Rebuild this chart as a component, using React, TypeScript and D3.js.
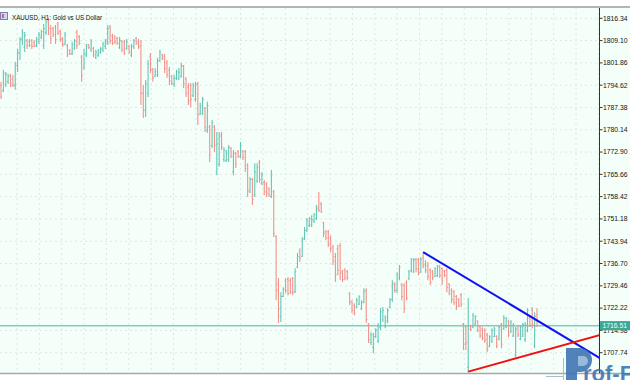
import React from 'react';
import * as d3 from 'd3';

const W = 630;
const H = 380;

const tickValues = [1816.34, 1809.1, 1801.86, 1794.62, 1787.38, 1780.14, 1772.9, 1765.66, 1758.42, 1751.18, 1743.94, 1736.7, 1729.46, 1722.22, 1714.98, 1707.74];

const opens = [
  1794.5, 1792.8, 1795.0, 1795.8, 1797.6, 1796.5, 1794.6, 1801.0, 1805.0, 1809.5,
  1807.0, 1809.2, 1808.8, 1809.0, 1808.5, 1807.4, 1808.8, 1810.2, 1807.5, 1811.8,
  1815.5, 1813.2, 1813.0, 1813.6, 1814.5, 1812.0, 1809.5, 1808.0, 1807.5, 1806.0,
  1804.8, 1806.6, 1811.8, 1810.3, 1803.8, 1800.5, 1804.5, 1807.8, 1806.2, 1806.6,
  1803.6, 1804.4, 1805.2, 1806.0, 1807.2, 1808.5, 1813.5, 1810.6, 1810.2, 1809.8,
  1807.0, 1808.8, 1808.6, 1806.5, 1807.2, 1804.4, 1807.0, 1809.8, 1808.8, 1807.5,
  1792.0, 1786.5, 1792.0, 1804.0, 1799.5, 1797.5, 1798.0, 1802.5, 1804.5, 1804.0,
  1802.0, 1799.5, 1797.5, 1794.8, 1796.8, 1797.0, 1797.5, 1800.8, 1796.5, 1794.0,
  1794.5, 1791.2, 1790.0, 1795.0, 1785.2, 1785.5, 1787.0, 1780.0, 1781.0, 1775.0,
  1781.0, 1766.5, 1769.0, 1778.5, 1770.5, 1770.2, 1770.5, 1774.2, 1766.5, 1772.5,
  1773.0, 1771.5, 1773.2, 1773.0, 1768.5, 1760.0, 1764.0, 1759.0, 1763.5, 1769.5,
  1762.8, 1763.0, 1762.5, 1761.0, 1758.5, 1760.0, 1745.5, 1730.0, 1719.5, 1726.0,
  1731.0, 1731.5, 1731.2, 1731.8, 1727.5, 1735.5, 1740.5, 1739.0, 1744.8, 1747.5,
  1749.0, 1749.2, 1750.5, 1751.2, 1755.0, 1756.0, 1750.0, 1747.0, 1747.0, 1745.0,
  1742.0, 1739.0, 1741.5, 1742.5, 1734.0, 1734.5, 1734.0, 1727.0, 1724.5, 1723.0,
  1722.5, 1723.5, 1722.0, 1724.2, 1728.0, 1717.0, 1711.0, 1709.5, 1713.0, 1711.5,
  1716.0, 1718.5, 1716.5, 1718.0, 1722.5, 1725.0, 1730.0, 1728.0, 1732.0, 1730.0,
  1729.5, 1730.5, 1731.8, 1734.5, 1734.0, 1738.0, 1738.0, 1734.0, 1738.5, 1736.5,
  1736.0, 1734.5, 1734.0, 1732.5, 1732.8, 1735.5, 1735.0, 1734.2, 1734.5, 1730.0,
  1728.0, 1727.5, 1726.0, 1725.0, 1726.5, 1717.0, 1716.0, 1703.0, 1716.5, 1716.0,
  1717.0, 1718.0, 1716.2, 1715.5, 1715.0, 1713.5, 1709.8, 1711.5, 1713.0, 1713.0,
  1712.0, 1717.0, 1715.5, 1716.0, 1718.0, 1714.5, 1713.2, 1707.0, 1716.5, 1712.2,
  1713.0, 1712.0, 1715.0, 1719.0, 1721.5, 1710.0, 1720.0
];

const highs = [
  1795.7, 1799.6, 1798.9, 1798.3, 1798.3, 1797.9, 1802.2, 1806.4, 1810.3, 1812.9,
  1811.9, 1809.6, 1809.6, 1809.6, 1809.3, 1810.3, 1811.9, 1812.6, 1814.5, 1816.1,
  1816.5, 1814.2, 1813.5, 1814.2, 1815.2, 1812.6, 1810.3, 1811.9, 1808.0, 1806.4,
  1808.7, 1809.6, 1812.6, 1810.9, 1804.4, 1806.4, 1808.0, 1808.0, 1809.6, 1807.0,
  1806.1, 1806.4, 1807.0, 1808.7, 1809.6, 1814.2, 1814.2, 1811.3, 1810.9, 1810.3,
  1810.3, 1809.3, 1809.3, 1809.6, 1807.7, 1808.0, 1809.6, 1810.3, 1809.6, 1809.3,
  1794.7, 1796.3, 1802.8, 1805.1, 1800.2, 1800.2, 1803.5, 1806.1, 1804.8, 1804.8,
  1802.8, 1800.5, 1797.9, 1797.9, 1799.6, 1800.2, 1801.9, 1801.2, 1797.3, 1795.3,
  1795.3, 1795.3, 1795.7, 1795.7, 1788.9, 1790.8, 1787.5, 1789.2, 1781.7, 1783.3,
  1781.7, 1779.4, 1779.4, 1779.4, 1774.5, 1773.6, 1775.2, 1774.5, 1773.6, 1772.9,
  1773.6, 1776.2, 1773.6, 1773.6, 1769.3, 1764.8, 1764.5, 1769.3, 1769.3, 1770.3,
  1766.4, 1763.8, 1763.2, 1761.5, 1767.1, 1760.6, 1745.9, 1732.0, 1727.4, 1729.0,
  1732.0, 1732.3, 1732.0, 1732.3, 1735.2, 1740.1, 1741.7, 1745.3, 1748.6, 1751.5,
  1751.8, 1752.4, 1753.1, 1755.7, 1759.9, 1756.7, 1750.2, 1747.6, 1747.6, 1745.9,
  1742.7, 1740.1, 1742.7, 1743.4, 1734.6, 1735.2, 1734.6, 1727.4, 1724.8, 1723.8,
  1725.5, 1726.4, 1724.8, 1728.7, 1728.7, 1717.4, 1714.4, 1714.1, 1715.7, 1717.4,
  1722.2, 1722.6, 1719.9, 1722.2, 1725.5, 1731.3, 1730.7, 1733.9, 1736.2, 1730.3,
  1730.3, 1731.3, 1734.6, 1738.5, 1738.5, 1738.5, 1738.5, 1738.8, 1740.4, 1737.8,
  1737.2, 1735.2, 1734.6, 1735.5, 1736.2, 1736.2, 1735.5, 1734.6, 1735.2, 1730.3,
  1728.7, 1728.1, 1726.5, 1725.5, 1727.1, 1717.4, 1716.7, 1725.5, 1716.8, 1720.6,
  1719.9, 1718.3, 1716.7, 1716.0, 1715.7, 1714.1, 1713.4, 1715.7, 1716.1, 1713.4,
  1716.7, 1717.4, 1719.9, 1719.3, 1718.3, 1718.3, 1717.4, 1716.1, 1716.7, 1716.7,
  1717.4, 1717.7, 1722.2, 1719.3, 1722.6, 1720.9, 1722.2
];

const lows = [
  1790.1, 1792.4, 1794.0, 1795.0, 1794.0, 1794.0, 1793.1, 1798.9, 1802.8, 1807.7,
  1805.4, 1806.4, 1807.0, 1806.4, 1807.0, 1807.0, 1808.0, 1809.6, 1806.4, 1810.9,
  1810.9, 1808.0, 1810.3, 1808.0, 1810.9, 1808.7, 1807.0, 1807.7, 1803.8, 1804.4,
  1804.4, 1806.1, 1806.4, 1807.7, 1795.7, 1799.6, 1803.8, 1806.4, 1805.4, 1803.8,
  1803.1, 1803.8, 1804.8, 1805.4, 1806.4, 1807.7, 1808.0, 1807.7, 1808.0, 1807.7,
  1806.4, 1805.4, 1804.4, 1806.1, 1804.8, 1803.8, 1806.4, 1807.7, 1806.4, 1788.2,
  1784.0, 1784.3, 1790.8, 1798.6, 1795.7, 1797.3, 1797.3, 1802.2, 1802.8, 1798.6,
  1797.0, 1794.7, 1794.7, 1794.0, 1796.3, 1796.3, 1797.0, 1793.7, 1790.8, 1788.2,
  1787.5, 1790.8, 1789.2, 1781.7, 1784.9, 1784.9, 1779.4, 1779.1, 1769.7, 1774.2,
  1772.9, 1765.4, 1768.1, 1773.6, 1769.7, 1769.7, 1769.7, 1771.0, 1765.4, 1767.7,
  1771.0, 1771.0, 1770.3, 1766.4, 1758.3, 1759.6, 1755.7, 1758.3, 1762.9, 1762.9,
  1762.2, 1758.9, 1758.3, 1758.3, 1758.0, 1745.3, 1724.8, 1717.4, 1717.7, 1725.8,
  1727.1, 1726.4, 1726.8, 1726.4, 1727.1, 1735.2, 1737.2, 1738.8, 1744.3, 1746.9,
  1748.6, 1748.6, 1749.9, 1750.8, 1753.4, 1753.1, 1745.3, 1744.3, 1742.1, 1740.4,
  1736.2, 1730.7, 1732.9, 1731.3, 1730.7, 1731.3, 1731.3, 1723.2, 1720.6, 1719.9,
  1722.2, 1723.2, 1721.6, 1723.8, 1717.4, 1710.9, 1710.2, 1707.6, 1712.5, 1710.9,
  1715.1, 1717.7, 1715.7, 1717.4, 1722.2, 1724.2, 1727.1, 1727.1, 1731.3, 1724.8,
  1720.6, 1724.8, 1731.3, 1733.9, 1733.6, 1733.9, 1732.9, 1733.6, 1735.2, 1733.6,
  1731.3, 1729.7, 1731.3, 1732.3, 1732.3, 1732.0, 1729.7, 1732.3, 1727.4, 1726.4,
  1723.8, 1723.2, 1721.6, 1722.6, 1722.6, 1708.6, 1708.6, 1701.4, 1714.8, 1715.7,
  1716.7, 1714.4, 1712.5, 1711.8, 1710.9, 1707.9, 1709.5, 1710.9, 1712.8, 1709.2,
  1711.8, 1709.2, 1715.1, 1715.7, 1712.8, 1714.1, 1712.8, 1706.3, 1712.8, 1711.8,
  1712.8, 1711.2, 1714.4, 1716.1, 1715.7, 1709.2, 1716.05
];

const closes = [
  1791.0, 1798.5, 1798.2, 1797.6, 1795.2, 1794.6, 1801.0, 1805.2, 1809.5, 1811.6,
  1810.8, 1807.5, 1807.6, 1807.2, 1807.4, 1809.4, 1811.0, 1812.0, 1813.0, 1815.0,
  1813.0, 1809.8, 1811.0, 1809.5, 1811.5, 1809.5, 1807.8, 1811.0, 1804.5, 1804.8,
  1807.8, 1809.0, 1807.5, 1808.2, 1797.5, 1805.0, 1807.2, 1806.8, 1808.8, 1804.5,
  1805.3, 1805.8, 1806.5, 1808.0, 1809.0, 1813.0, 1809.0, 1808.3, 1808.6, 1808.2,
  1809.2, 1806.2, 1805.0, 1808.8, 1805.3, 1807.3, 1809.0, 1808.2, 1807.0, 1792.0,
  1786.5, 1795.0, 1801.5, 1799.5, 1797.0, 1799.0, 1802.5, 1805.3, 1803.2, 1800.0,
  1798.0, 1796.0, 1795.3, 1797.0, 1799.0, 1798.8, 1801.0, 1795.0, 1792.0, 1789.5,
  1790.0, 1794.5, 1795.0, 1785.0, 1788.0, 1790.0, 1781.0, 1788.0, 1772.0, 1782.5,
  1775.0, 1775.5, 1778.0, 1774.5, 1773.5, 1772.5, 1774.5, 1771.5, 1772.5, 1769.0,
  1771.5, 1775.0, 1771.2, 1767.5, 1760.5, 1764.0, 1757.5, 1766.5, 1768.0, 1764.0,
  1765.5, 1760.0, 1759.5, 1759.0, 1765.5, 1746.5, 1728.0, 1722.0, 1726.0, 1728.3,
  1728.0, 1727.0, 1727.5, 1727.2, 1734.0, 1739.0, 1738.5, 1744.5, 1747.5, 1750.5,
  1751.2, 1751.0, 1752.5, 1754.5, 1754.0, 1753.5, 1746.5, 1745.0, 1743.0, 1741.5,
  1737.5, 1733.0, 1734.5, 1733.5, 1731.5, 1732.0, 1732.0, 1724.0, 1721.5, 1720.5,
  1724.8, 1725.8, 1724.0, 1727.5, 1718.5, 1712.0, 1713.5, 1713.0, 1715.0, 1716.5,
  1721.0, 1721.5, 1719.0, 1721.5, 1725.0, 1730.0, 1728.0, 1733.0, 1735.5, 1726.0,
  1722.0, 1725.5, 1734.0, 1738.0, 1737.8, 1735.0, 1733.8, 1738.0, 1736.0, 1734.5,
  1732.5, 1730.5, 1732.0, 1735.0, 1735.8, 1732.8, 1731.0, 1732.8, 1729.0, 1727.0,
  1725.0, 1724.0, 1722.5, 1723.0, 1723.5, 1710.5, 1711.0, 1715.5, 1715.2, 1719.8,
  1719.5, 1715.0, 1713.2, 1712.5, 1711.8, 1709.0, 1712.8, 1715.0, 1715.5, 1710.0,
  1716.0, 1710.5, 1719.0, 1718.8, 1713.5, 1717.8, 1716.8, 1715.5, 1713.5, 1716.0,
  1716.8, 1717.0, 1721.5, 1716.5, 1717.0, 1719.5, 1716.51
];

const lastPrice = 1716.51;
const titleText = 'XAUUSD, H1:  Gold vs US Dollar';
// trend lines in (bar index, price)
const blueTrendIdx = [178, 252.7];
const blueTrendPrice = [1740.4, 1705.9];
const redTrendIdx = [197, 252.7];
const redTrendPrice = [1701.6, 1713.5];

const UP = '#62c6b5';
const DOWN = '#f2918a';
const FONT = '"Liberation Sans", Arial, sans-serif';

export default function App() {
  const n = opens.length;
  const x = d3.scaleLinear().domain([0, n - 1]).range([1, 537]);
  const y = d3.scaleLinear().domain([1707.74, 1816.34]).range([352.7, 18.3]);
  const plotRight = 599.5;
  const plotTop = 8;
  const plotBottom = 373;
  const gridX = d3.range(17, plotRight, 22.36);
  const line = d3
    .line<[number, number]>()
    .x((d) => x(d[0]))
    .y((d) => y(d[1]));
  const bluePts: [number, number][] = blueTrendIdx.map((v, k) => [v, blueTrendPrice[k]]);
  const redPts: [number, number][] = redTrendIdx.map((v, k) => [v, redTrendPrice[k]]);
  const yLast = y(lastPrice);

  return (
    <svg
      width={W}
      height={H}
      style={{ position: 'absolute', left: 0, top: 0, display: 'block' }}
    >
      <defs>
        <clipPath id="plot">
          <rect x={0} y={plotTop} width={plotRight} height={plotBottom - plotTop} />
        </clipPath>
      </defs>
      <rect x={0} y={0} width={W} height={H} fill="#ffffff" />
      <rect x={0} y={plotTop} width={W} height={plotBottom - plotTop} fill="#f5fffa" />
      <line x1={0} x2={W} y1={7} y2={7} stroke="#9a9a9a" strokeWidth={1.5} />
      <line x1={0} x2={W} y1={373.5} y2={373.5} stroke="#a8a8a8" strokeWidth={1.5} />

      <g clipPath="url(#plot)">
        {tickValues.map((t) => (
          <line
            key={'h' + t}
            x1={0}
            x2={plotRight}
            y1={y(t)}
            y2={y(t)}
            stroke="#dfe6e3"
            strokeWidth={1}
            strokeDasharray="2,3"
          />
        ))}
        {gridX.map((gx) => (
          <line
            key={'v' + gx}
            x1={gx}
            x2={gx}
            y1={plotTop}
            y2={plotBottom}
            stroke="#dfe6e3"
            strokeWidth={1}
            strokeDasharray="2,3"
          />
        ))}
        <line x1={0} x2={plotRight} y1={yLast} y2={yLast} stroke="#7fcdc0" strokeWidth={1.6} />
        {opens.map((o, i) => {
          const c = closes[i];
          const col = c >= o ? UP : DOWN;
          const cx = x(i);
          return (
            <g key={'b' + i} stroke={col} strokeWidth={1.1}>
              <line x1={cx} x2={cx} y1={y(highs[i])} y2={y(lows[i])} />
              <line x1={cx - 1.2} x2={cx} y1={y(o)} y2={y(o)} strokeWidth={0.9} />
              <line x1={cx} x2={cx + 1.2} y1={y(c)} y2={y(c)} strokeWidth={0.9} />
            </g>
          );
        })}
        <path d={line(bluePts) || ''} stroke="#1010f0" strokeWidth={2} fill="none" />
        <path d={line(redPts) || ''} stroke="#f01010" strokeWidth={2} fill="none" />
      </g>

      <line x1={plotRight} x2={plotRight} y1={plotTop} y2={plotBottom} stroke="#333" strokeWidth={1} />
      {tickValues.map((t) => (
        <g key={'t' + t}>
          <line x1={plotRight} x2={plotRight + 3} y1={y(t)} y2={y(t)} stroke="#333" strokeWidth={1} />
          <text
            x={603}
            y={y(t)}
            dy="0.35em"
            fontFamily={FONT}
            fontSize={6.8}
            fill="#111"
          >
            {t.toFixed(2)}
          </text>
        </g>
      ))}
      <rect x={600} y={yLast - 4.6} width={30} height={9.2} fill="#3ea797" />
      <text x={602.5} y={yLast} dy="0.35em" fontFamily={FONT} fontSize={6.8} fill="#eafff8">
        {lastPrice.toFixed(2)}
      </text>

      <g>
        <rect x={0.5} y={12.5} width={7} height={7} fill="#d2d2f2" stroke="#7c7cc0" strokeWidth={1} />
        <rect x={2} y={14} width={2} height={4} fill="#e06060" />
        <text
          x={12}
          y={19.5}
          fontFamily={FONT}
          fontSize={6.8}
          fill="#111"
          textLength={90}
          lengthAdjust="spacingAndGlyphs"
        >
          {titleText}
        </text>
      </g>

      <g opacity={0.88}>
        <line x1={563.5} x2={563.5} y1={358} y2={380} stroke="#9db4cc" strokeWidth={1} />
        <line x1={546} x2={563.5} y1={376.5} y2={376.5} stroke="#9db4cc" strokeWidth={1} />
        <path d="M566,348 H580 A12,12 0 0 1 580,372 H577 V380 H566 Z" fill="#3a72b2" />
        <path d="M578,356 H583 A5,5 0 0 1 583,366 H578 Z" fill="#8fb0d6" />
        <text x={583} y={381} fontFamily={FONT} fontWeight="bold" fontSize={22} fill="#3a72b2">
          rof-F
        </text>
      </g>
    </svg>
  );
}
